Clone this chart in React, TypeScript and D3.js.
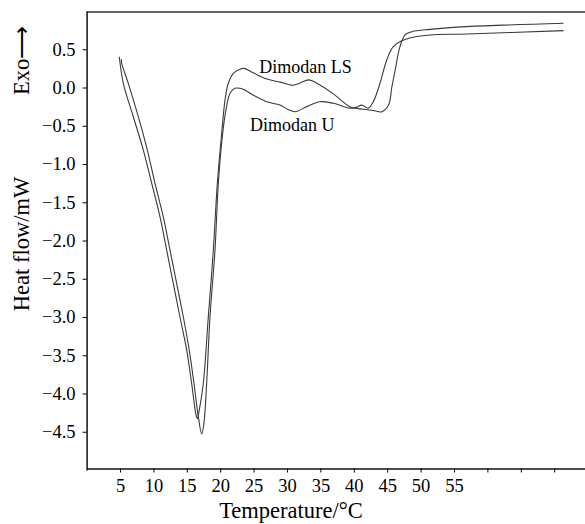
import { useEffect, useRef } from 'react';
import * as d3 from 'd3';

// Dimodan LS trace (temperature °C, heat flow mW)
const lsTemp = [4.9, 4.95, 5.49, 6.99, 8.49, 9.75, 10.99, 11.99, 12.98, 13.98, 14.99, 15.73, 16.38, 16.57,
  16.9, 17.47, 18.22, 18.97, 19.57, 20.22, 20.72, 21.21, 21.96, 22.96, 23.6, 25.0, 27.0, 29.0, 30.9,
  32.0, 33.2, 34.4, 36.9, 39.4, 41.4, 42.9, 44.2, 45.2, 45.7, 46.2, 46.9, 47.7, 48.7, 51.4, 56.9, 71.4];
const lsHeat = [0.40, 0.36, 0.055, -0.382, -0.818, -1.254, -1.691, -2.127, -2.563, -3.0, -3.436, -3.872, -4.28, -4.33,
  -4.2, -3.87, -3.0, -2.127, -1.254, -0.6, -0.164, 0.055, 0.186, 0.24, 0.25, 0.19, 0.11, 0.07, 0.03,
  0.06, 0.10, 0.06, -0.08, -0.25, -0.285, -0.30, -0.317, -0.23, 0.01, 0.23, 0.53, 0.69, 0.73, 0.76, 0.796, 0.84];

// Dimodan U trace
const uTemp = [5.2, 5.25, 6.24, 7.74, 9.09, 10.24, 11.48, 12.49, 13.49, 14.48, 15.37, 16.08, 16.72, 17.23,
  17.55, 17.97, 18.47, 19.22, 19.72, 20.37, 20.87, 21.47, 22.2, 22.96, 23.6, 24.96, 26.96, 28.95, 30.2,
  31.2, 32.95, 34.94, 36.93, 39.43, 40.4, 41.18, 42.17, 42.92, 43.92, 44.93, 45.91, 47.17, 48.9, 51.4, 56.9, 71.4];
const uHeat = [0.37, 0.317, 0.055, -0.382, -0.818, -1.254, -1.691, -2.127, -2.563, -3.0, -3.436, -3.872, -4.3, -4.53,
  -4.4, -3.87, -3.0, -2.127, -1.254, -0.6, -0.29, -0.076, -0.01, -0.01, -0.03, -0.1, -0.186, -0.23, -0.29,
  -0.317, -0.25, -0.186, -0.207, -0.27, -0.26, -0.23, -0.27, -0.186, 0.055, 0.36, 0.534, 0.61, 0.657, 0.687, 0.70, 0.743];

const xTicks = [5, 10, 15, 20, 25, 30, 35, 40, 45, 50, 55, 60, 65, 70];
const xTickLabels = ['5', '10', '15', '20', '25', '30', '35', '40', '45', '50', '55', '', '', ''];
const yTicks = [0.5, 0, -0.5, -1, -1.5, -2, -2.5, -3, -3.5, -4, -4.5];

const seriesNames = ['Dimodan LS', 'Dimodan U'];
const labelTemp = [25.85, 24.46];
const labelHeat = [0.194, -0.565];

const FONT = '"Liberation Serif", "Times New Roman", serif';

const App = () => {
  const svgRef = useRef<SVGSVGElement | null>(null);

  useEffect(() => {
    document.body.style.margin = '0';
    const width = 585;
    const height = 524;
    const svg = d3.select(svgRef.current)
      .attr('width', width)
      .attr('height', height);
    svg.selectAll('*').remove();

    const x = d3.scaleLinear().domain([0, 75]).range([86.6, 587.6]);
    const y = d3.scaleLinear().domain([-5, 1]).range([470, 11]);

    // top frame line
    svg.append('line')
      .attr('x1', x(0)).attr('x2', width)
      .attr('y1', 12).attr('y2', 12)
      .attr('stroke', '#666').attr('stroke-width', 2);

    const yAxis = svg.append('g')
      .attr('transform', `translate(${x(0)},0)`)
      .call(d3.axisLeft(y).tickValues(yTicks).tickSize(4).tickSizeOuter(0).tickPadding(7)
        .tickFormat(d3.format('.1f') as any));
    yAxis.select('.domain').attr('stroke', '#111').attr('stroke-width', 1.5);
    yAxis.selectAll('text').style('font-family', FONT).style('font-size', '18.5px').attr('fill', '#000');

    const xAxis = svg.append('g')
      .attr('transform', `translate(0,${468.5})`)
      .call(d3.axisBottom(x).tickValues(xTicks).tickSize(4).tickSizeOuter(0).tickPadding(6)
        .tickFormat((d, i) => xTickLabels[i]));
    xAxis.select('.domain').attr('stroke', '#111').attr('stroke-width', 1.5);
    xAxis.selectAll('text').style('font-family', FONT).style('font-size', '18.5px').attr('fill', '#000');

    const line = d3.line<[number, number]>()
      .x(d => x(d[0]))
      .y(d => y(d[1]))
      .curve(d3.curveCatmullRom.alpha(0.5));

    const series = [
      lsTemp.map((t, i) => [t, lsHeat[i]] as [number, number]),
      uTemp.map((t, i) => [t, uHeat[i]] as [number, number]),
    ];

    svg.selectAll('.trace')
      .data(series)
      .enter().append('path')
      .attr('class', 'trace')
      .attr('fill', 'none')
      .attr('stroke', '#3a3a3a')
      .attr('stroke-width', 1.1)
      .attr('d', d => line(d));

    svg.selectAll('.lbl')
      .data(seriesNames)
      .enter().append('text')
      .attr('class', 'lbl')
      .attr('x', (d, i) => x(labelTemp[i]))
      .attr('y', (d, i) => y(labelHeat[i]))
      .style('font-family', FONT)
      .style('font-size', '18px')
      .text(d => d);

    svg.append('text')
      .attr('x', 291).attr('y', 518)
      .attr('text-anchor', 'middle')
      .style('font-family', FONT)
      .style('font-size', '22.5px')
      .text('Temperature/°C');

    svg.append('text')
      .attr('transform', 'translate(28.5,244) rotate(-90)')
      .attr('text-anchor', 'middle')
      .style('font-family', FONT)
      .style('font-size', '22.5px')
      .text('Heat flow/mW');

    svg.append('text')
      .attr('transform', 'translate(28.5,95) rotate(-90)')
      .attr('text-anchor', 'start')
      .style('font-family', FONT)
      .style('font-size', '22.5px')
      .text('Exo⟶');
  }, []);

  return <svg ref={svgRef}></svg>;
};

export default App;
